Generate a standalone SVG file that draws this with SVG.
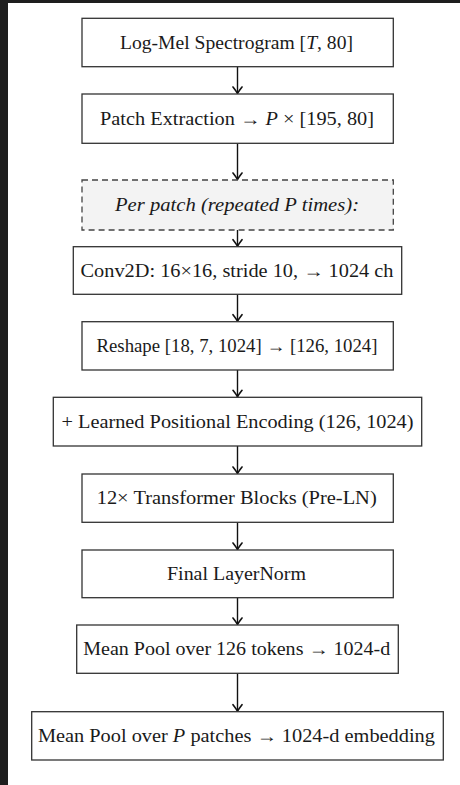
<svg xmlns="http://www.w3.org/2000/svg" width="460" height="785" viewBox="0 0 460 785">
  <style>
    .box { fill: #ffffff; stroke: #333333; stroke-width: 1.3; }
    .dbox { fill: #f3f3f3; stroke: #444444; stroke-width: 1.3; stroke-dasharray: 6 4; }
    .lbl { font-family: "Liberation Serif", "DejaVu Serif", serif; font-size: 18px; fill: #1a1a1a; text-anchor: middle; }
    .it { font-style: italic; }
    .conn { stroke: #111111; stroke-width: 1.4; fill: none; }
  </style>
  <defs>
    <marker id="ah" markerUnits="userSpaceOnUse" viewBox="-8 -6 10 12" refX="0" refY="0" markerWidth="10" markerHeight="12" orient="auto">
      <path d="M -6.5 -4.5 Q -2 -1 0 0 Q -2 1 -6.5 4.5" fill="none" stroke="#111111" stroke-width="1.6" stroke-linecap="round"/>
    </marker>
  </defs>
  <rect x="0" y="0" width="460" height="785" fill="#ffffff"/>
  <rect x="0" y="0" width="460" height="3" fill="#1e1e1e"/>
  <rect x="0" y="0" width="8" height="785" fill="#1e1e1e"/>

  <g id="connectors">
    <line class="conn" x1="237.5" y1="66.7" x2="237.5" y2="93.5" marker-end="url(#ah)"/>
    <line class="conn" x1="237.5" y1="143.3" x2="237.5" y2="179.5" marker-end="url(#ah)"/>
    <line class="conn" x1="237.5" y1="230" x2="237.5" y2="246.2" marker-end="url(#ah)"/>
    <line class="conn" x1="237.5" y1="294.3" x2="237.5" y2="321.2" marker-end="url(#ah)"/>
    <line class="conn" x1="237.5" y1="370" x2="237.5" y2="396.8" marker-end="url(#ah)"/>
    <line class="conn" x1="237.5" y1="446" x2="237.5" y2="473.5" marker-end="url(#ah)"/>
    <line class="conn" x1="237.5" y1="522.3" x2="237.5" y2="549.5" marker-end="url(#ah)"/>
    <line class="conn" x1="237.5" y1="597.7" x2="237.5" y2="624.5" marker-end="url(#ah)"/>
    <line class="conn" x1="237.5" y1="673.3" x2="237.5" y2="711.2" marker-end="url(#ah)"/>
  </g>

  <g id="n1">
    <rect class="box" x="82" y="18.3" width="311.3" height="48.4"/>
    <text class="lbl" x="236.5" y="48.5" textLength="233" lengthAdjust="spacingAndGlyphs">Log-Mel Spectrogram [<tspan class="it">T</tspan>, 80]</text>
  </g>
  <g id="n2">
    <rect class="box" x="82" y="94" width="311.3" height="49.3"/>
    <text class="lbl" x="237" y="124.5" textLength="274" lengthAdjust="spacingAndGlyphs">Patch Extraction → <tspan class="it">P</tspan> × [195, 80]</text>
  </g>
  <g id="n3">
    <rect class="dbox" x="82" y="180" width="311.3" height="50"/>
    <text class="lbl it" x="237" y="210.5" textLength="244" lengthAdjust="spacingAndGlyphs">Per patch (repeated P times):</text>
  </g>
  <g id="n4">
    <rect class="box" x="73.3" y="246.7" width="328.4" height="47.6"/>
    <text class="lbl" x="237" y="276.5" textLength="313" lengthAdjust="spacingAndGlyphs">Conv2D: 16×16, stride 10, → 1024 ch</text>
  </g>
  <g id="n5">
    <rect class="box" x="82" y="321.7" width="311.3" height="48.3"/>
    <text class="lbl" x="237" y="352" textLength="281" lengthAdjust="spacingAndGlyphs">Reshape [18, 7, 1024] → [126, 1024]</text>
  </g>
  <g id="n6">
    <rect class="box" x="53.3" y="397.3" width="368.4" height="48.7"/>
    <text class="lbl" x="237.5" y="427.5" textLength="352" lengthAdjust="spacingAndGlyphs">+ Learned Positional Encoding (126, 1024)</text>
  </g>
  <g id="n7">
    <rect class="box" x="82" y="474" width="311.3" height="48.3"/>
    <text class="lbl" x="236.7" y="504" textLength="280" lengthAdjust="spacingAndGlyphs">12× Transformer Blocks (Pre-LN)</text>
  </g>
  <g id="n8">
    <rect class="box" x="82" y="550" width="311.3" height="47.7"/>
    <text class="lbl" x="236.5" y="580" textLength="139" lengthAdjust="spacingAndGlyphs">Final LayerNorm</text>
  </g>
  <g id="n9">
    <rect class="box" x="76.7" y="625" width="321.6" height="48.3"/>
    <text class="lbl" x="236.7" y="655" textLength="307" lengthAdjust="spacingAndGlyphs">Mean Pool over 126 tokens → 1024-d</text>
  </g>
  <g id="n10">
    <rect class="box" x="31.7" y="711.7" width="411.6" height="48.3"/>
    <text class="lbl" x="236.4" y="742" textLength="397" lengthAdjust="spacingAndGlyphs">Mean Pool over <tspan class="it">P</tspan> patches → 1024-d embedding</text>
  </g>
</svg>
